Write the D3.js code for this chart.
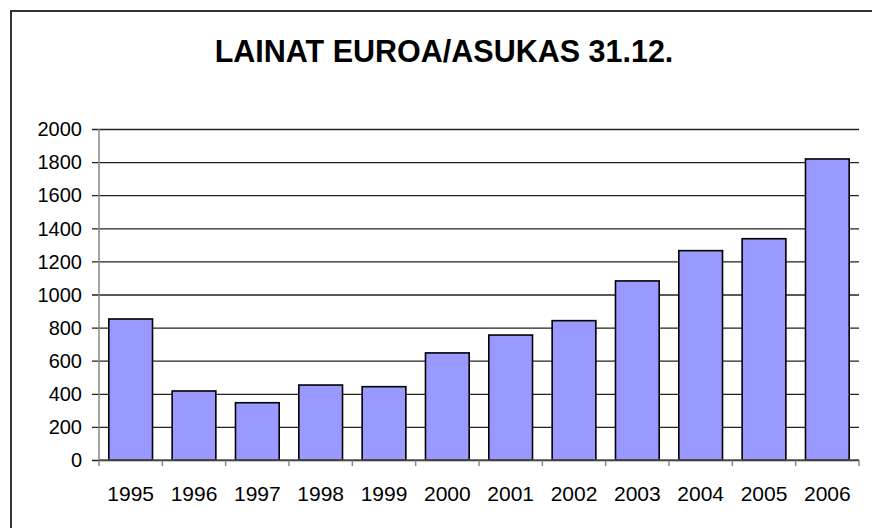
<!DOCTYPE html>
<html>
<head>
<meta charset="utf-8">
<script src="https://cdn.jsdelivr.net/npm/d3@7"></script>
<style>
  body { margin: 0; background: #fff; }
  svg { display: block; }
  text { font-family: "Liberation Sans", Arial, sans-serif; fill: #000; }
</style>
</head>
<body>
<script>
//
// DATA
//
var years = ["1995", "1996", "1997", "1998", "1999", "2000",
             "2001", "2002", "2003", "2004", "2005", "2006"];
var loans = [852, 417, 346, 453, 443, 647, 755, 842, 1082, 1265, 1337, 1819];
var y_ticks = [0, 200, 400, 600, 800, 1000, 1200, 1400, 1600, 1800, 2000];
var title = "LAINAT EUROA/ASUKAS 31.12.";

//
// LAYOUT
//
var width = 872, height = 528;
var plot_left = 99, plot_right = 859, plot_top = 129, plot_bottom = 460;

var svg = d3.select("body").append("svg")
    .attr("width", width)
    .attr("height", height);

// Outer frame (only left and top edges are visible)
svg.append("rect")
    .attr("x", 11).attr("y", 11)
    .attr("width", 900).attr("height", 600)
    .attr("fill", "none")
    .attr("stroke", "#333")
    .attr("stroke-width", 2);

// Title
svg.append("text")
    .attr("x", 444).attr("y", 62)
    .attr("text-anchor", "middle")
    .style("font-size", "30.5px")
    .style("font-weight", "bold")
    .text(title);

//
// SCALES
//
var x = d3.scaleBand()
    .domain(years)
    .range([plot_left, plot_right])
    .paddingInner(0.31)
    .paddingOuter(0.155);

var y = d3.scaleLinear()
    .domain([0, 2000])
    .range([plot_bottom, plot_top]);

// Gridlines with outer tick marks
svg.append("g")
    .attr("transform", "translate(" + plot_left + ",0)")
    .call(d3.axisLeft(y).tickValues(y_ticks).tickSize(-(plot_right - plot_left)).tickPadding(0).tickFormat(""))
    .call(function(g){
        g.select(".domain").remove();
        g.selectAll(".tick line")
            .attr("x1", -7)
            .attr("stroke", "#222")
            .attr("stroke-width", 1.3);
    });

// Y labels
svg.append("g").selectAll("text")
    .data(y_ticks)
    .enter().append("text")
    .attr("x", 82)
    .attr("y", function(d){ return y(d); })
    .attr("dy", "0.36em")
    .attr("text-anchor", "end")
    .style("font-size", "20px")
    .text(function(d){ return d; });

// Y axis line
svg.append("line")
    .attr("x1", plot_left).attr("x2", plot_left)
    .attr("y1", plot_top).attr("y2", plot_bottom)
    .attr("stroke", "#888")
    .attr("stroke-width", 1.5);

// X ticks at category boundaries
var bounds = years.map(function(d){ return x(d) - x.step() * x.paddingInner() / 2; });
bounds.push(plot_right);
svg.append("g").selectAll("line")
    .data(bounds)
    .enter().append("line")
    .attr("x1", function(d){ return d; })
    .attr("x2", function(d){ return d; })
    .attr("y1", plot_bottom).attr("y2", plot_bottom + 6)
    .attr("stroke", "#888")
    .attr("stroke-width", 1.5);

// Bars
svg.append("g").selectAll("rect")
    .data(loans)
    .enter().append("rect")
    .attr("x", function(d, i){ return x(years[i]); })
    .attr("y", function(d){ return y(d); })
    .attr("width", x.bandwidth())
    .attr("height", function(d){ return plot_bottom - y(d); })
    .attr("fill", "#9999ff")
    .attr("stroke", "#000")
    .attr("stroke-width", 1.6);

// X axis line
svg.append("line")
    .attr("x1", plot_left).attr("x2", plot_right)
    .attr("y1", plot_bottom).attr("y2", plot_bottom)
    .attr("stroke", "#555")
    .attr("stroke-width", 1.5);

// X labels
svg.append("g").selectAll("text")
    .data(years)
    .enter().append("text")
    .attr("x", function(d){ return x(d) + x.bandwidth() / 2; })
    .attr("y", 501)
    .attr("text-anchor", "middle")
    .style("font-size", "21px")
    .text(function(d){ return d; });
</script>
</body>
</html>
